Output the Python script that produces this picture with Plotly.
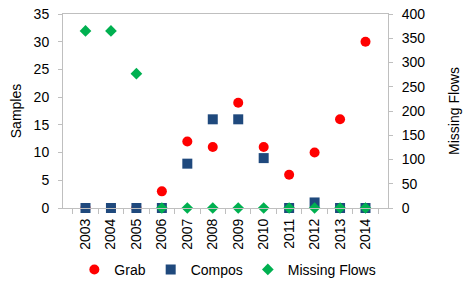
import plotly.graph_objects as go

years = ["2003", "2004", "2005", "2006", "2007", "2008", "2009", "2010", "2011", "2012", "2013", "2014"]
grab = [0, 0, 0, 3, 12, 11, 19, 11, 6, 10, 16, 30]
compos = [0, 0, 0, 0, 8, 16, 16, 9, 0, 1, 0, 0]
missing_flows = [365, 365, 277, 0, 0, 0, 0, 0, 0, 0, 0, 0]

fig = go.Figure()
fig.add_trace(go.Scatter(x=years, y=grab, mode="markers", name="Grab",
                         marker=dict(symbol="circle", size=10, color="#ff0000"),
                         cliponaxis=False))
fig.add_trace(go.Scatter(x=years, y=compos, mode="markers", name="Compos",
                         marker=dict(symbol="square", size=10, color="#1f497d"),
                         cliponaxis=False))
fig.add_trace(go.Scatter(x=years, y=missing_flows, mode="markers", name="Missing Flows",
                         marker=dict(symbol="diamond", size=9, color="#00b050"),
                         yaxis="y2", cliponaxis=False))

axis_line = "#bfbfbf"
fig.update_layout(
    width=465, height=282,
    margin=dict(l=63, r=77, t=14, b=74, autoexpand=False),
    paper_bgcolor="white", plot_bgcolor="white",
    font=dict(family="Liberation Sans, Arial, sans-serif", size=14, color="#000000"),
    showlegend=True,
    legend=dict(orientation="h", x=0.49, xanchor="center", xref="container",
                y=0.043, yanchor="middle", yref="container",
                font=dict(size=14), itemwidth=30, tracegroupgap=0),
    xaxis=dict(type="category", tickangle=-90, showline=True, linecolor=axis_line,
               mirror=True, ticks="outside", tickson="boundaries", ticklen=5,
               tickcolor=axis_line, showgrid=False, zeroline=False, automargin=False,
               ticklabelstandoff=4, ticklabeloverflow="allow"),
    yaxis=dict(title=dict(text="Samples", standoff=8, font=dict(size=14)), range=[0, 35], dtick=5,
               showline=True, linecolor=axis_line, ticks="outside", ticklen=4,
               tickcolor=axis_line, showgrid=False, zeroline=False, automargin=False,
               ticklabelstandoff=6, ticklabeloverflow="allow"),
    yaxis2=dict(title=dict(text="Missing Flows", standoff=24, font=dict(size=14)), range=[0, 400], dtick=50,
                overlaying="y", side="right", showline=True, linecolor=axis_line,
                ticks="outside", ticklen=4, tickcolor=axis_line, showgrid=False,
                zeroline=False, automargin=False, ticklabelstandoff=6,
                ticklabeloverflow="allow"),
)

# remove the browser's default 8px page margin so the figure fills the window
fig.write_html("out.html", config={"displayModeBar": False},
               post_script="document.body.style.margin='0';")
